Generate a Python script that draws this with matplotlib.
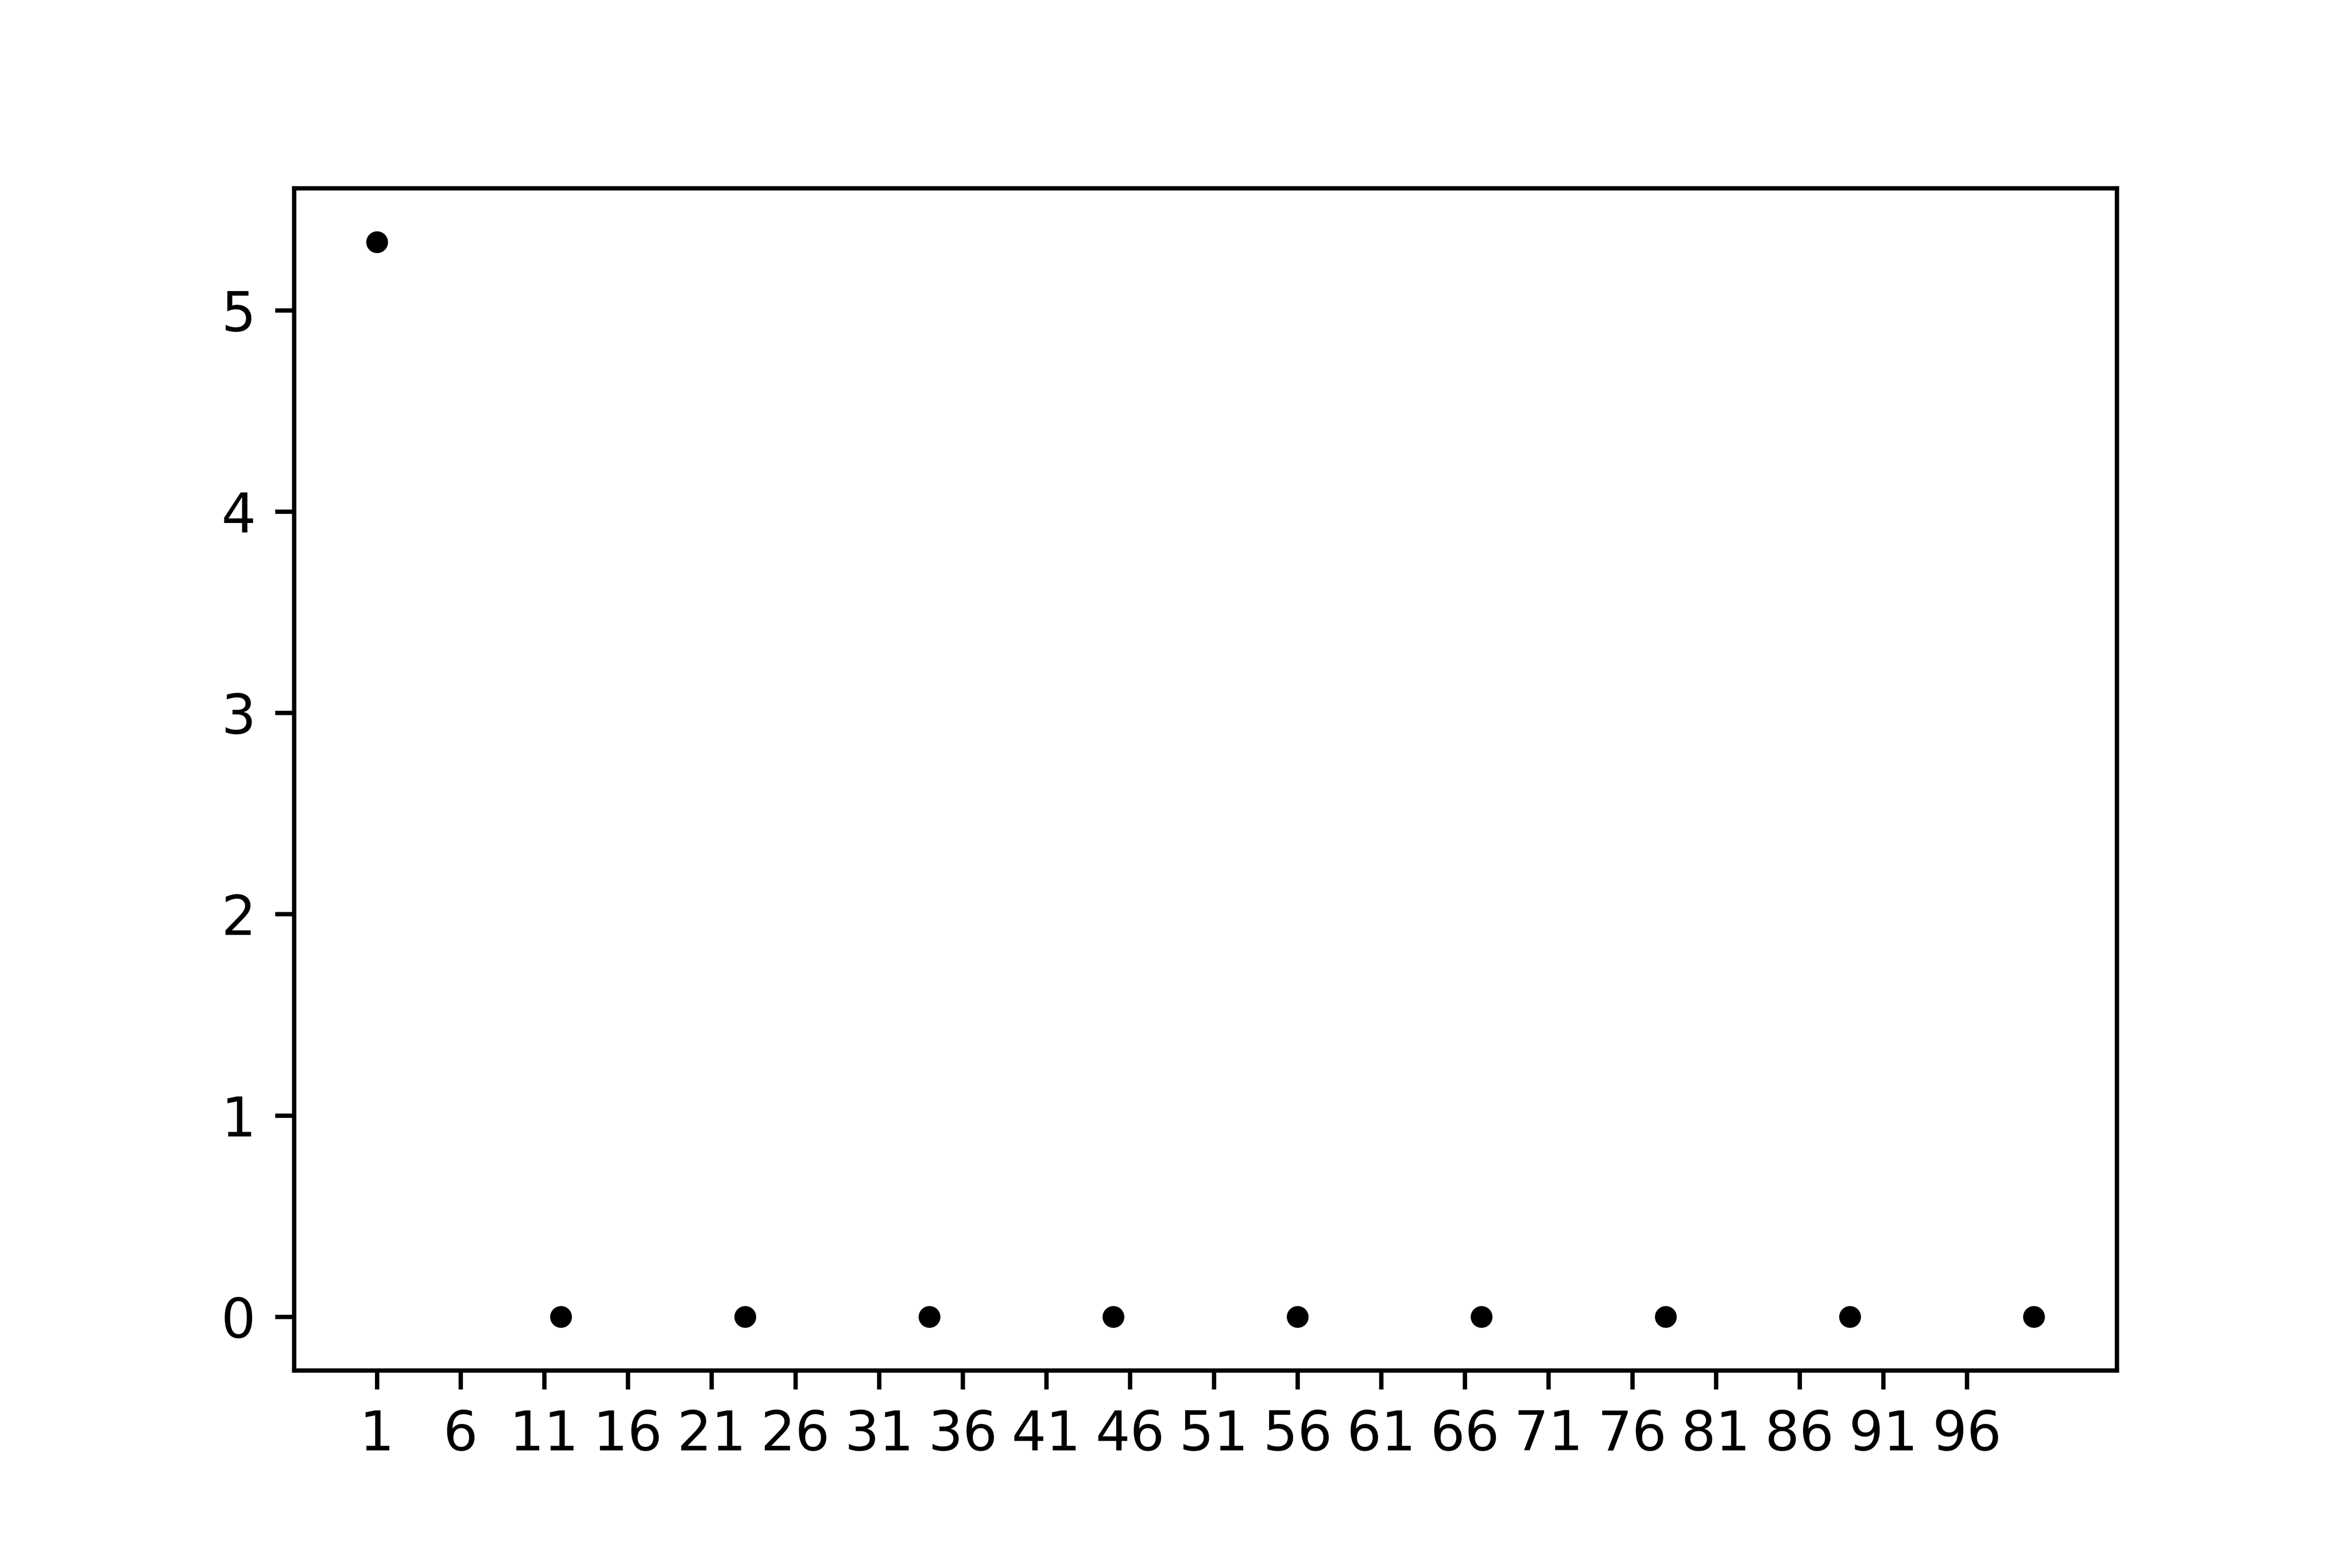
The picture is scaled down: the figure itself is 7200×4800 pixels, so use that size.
import numpy as np
import matplotlib
matplotlib.use('Agg')
import matplotlib.pyplot as plt

# sample positions and values
x_vals = [1, 12, 23, 34, 45, 56, 67, 78, 89, 100]
y_vals = [5.34, 0, 0, 0, 0, 0, 0, 0, 0, 0]
x_ticks = list(range(1, 100, 5))

fig = plt.figure(figsize=(6, 4))
plt.plot(x_vals, y_vals, 'k.')
plt.xticks(x_ticks)
plt.subplots_adjust(bottom=0.126)
plt.savefig('out.png', dpi=1200)
